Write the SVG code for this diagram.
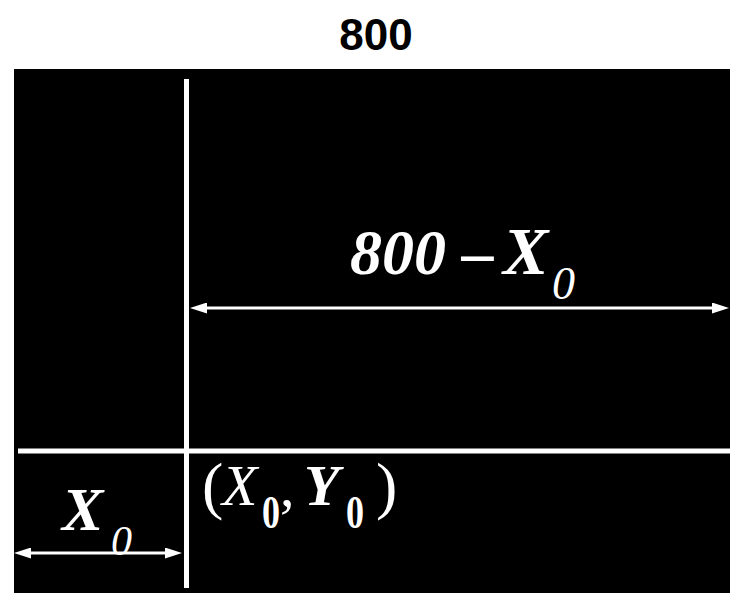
<svg xmlns="http://www.w3.org/2000/svg" width="730" height="593" viewBox="0 0 730 593">
  <style>
    .serif { font-family: "Liberation Serif", "Times New Roman", serif; fill: #fff; }
    .bi { font-weight: bold; font-style: italic; }
    .it { font-style: italic; }
    .b { font-weight: bold; }
    .axis { stroke: #fff; stroke-width: 5; fill: none; }
    .dim { stroke: #fff; stroke-width: 3; fill: none; marker-start: url(#ah); marker-end: url(#ah); }
  </style>
  <defs>
    <marker id="ah" viewBox="0 0 17 11" refX="7" refY="5.5" markerWidth="17" markerHeight="11" markerUnits="userSpaceOnUse" orient="auto-start-reverse">
      <path d="M0,0 L17,5.5 L0,11 z" fill="#fff"/>
    </marker>
  </defs>
  <rect width="730" height="593" fill="#fff"/>
  <g id="title">
    <text x="376" y="50" text-anchor="middle" font-family="Liberation Sans, Arial, sans-serif" font-weight="bold" font-size="44" fill="#000">800</text>
  </g>
  <g id="canvas">
    <rect x="14" y="69" width="716" height="524" fill="#000"/>
  </g>
  <g id="connectors">
    <line class="axis" x1="186.5" y1="79" x2="186.5" y2="588"/>
    <line class="axis" x1="18" y1="451" x2="730" y2="451"/>
    <line class="dim" x1="200" y1="308" x2="719" y2="308"/>
    <line class="dim" x1="24" y1="553" x2="172" y2="553"/>
  </g>
  <g id="label-width-rest">
    <text class="serif bi" x="350" y="274" font-size="64">800</text>
    <text class="serif bi" x="478" y="274" font-size="64" text-anchor="middle">–</text>
    <text class="serif bi" x="503" y="274" font-size="68">X</text>
    <text class="serif it" x="552" y="299" font-size="46">0</text>
  </g>
  <g id="label-x0">
    <text class="serif bi" x="62" y="530" font-size="62">X</text>
    <text class="serif it" x="111" y="555" font-size="42">0</text>
  </g>
  <g id="label-point">
    <text class="serif" x="202" y="507" font-size="64">(</text>
    <text class="serif it" x="222" y="505" font-size="58">X</text>
    <text class="serif b" transform="translate(262,528) scale(1,1.28)" font-size="36">0</text>
    <text class="serif" x="280" y="506" font-size="58">,</text>
    <text class="serif bi" x="304" y="505" font-size="58">Y</text>
    <text class="serif b" transform="translate(346,528) scale(1,1.28)" font-size="36">0</text>
    <text class="serif" x="376" y="507" font-size="64">)</text>
  </g>
</svg>
